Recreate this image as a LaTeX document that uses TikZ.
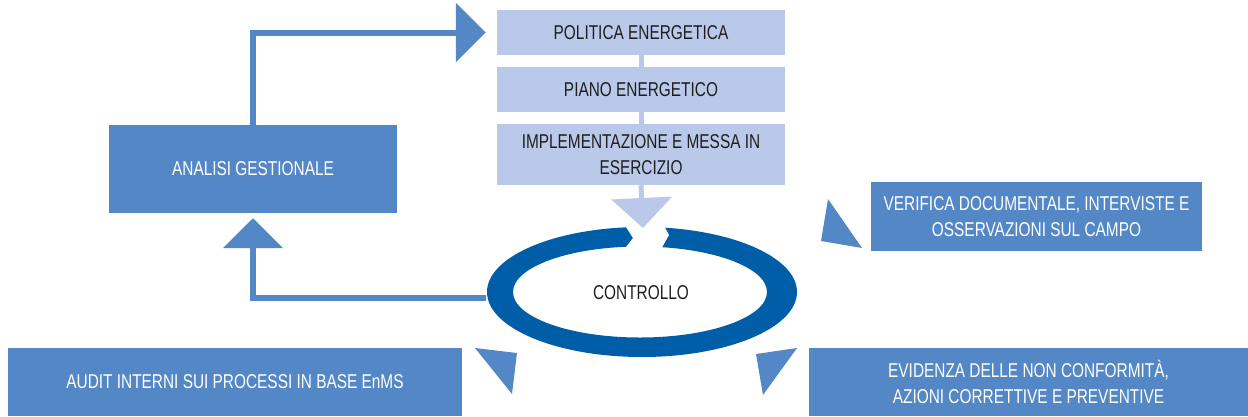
\documentclass[tikz,border=0pt]{standalone}
\usepackage{fontspec}
\setmainfont{Liberation Sans}[FakeStretch=0.77]
\usetikzlibrary{arrows.meta,shapes.geometric}
\definecolor{lightblue}{RGB}{186,201,233}
\definecolor{midblue}{RGB}{84,135,198}
\definecolor{ringblue}{RGB}{0,94,168}
\definecolor{darktext}{RGB}{30,30,30}
\begin{document}
\begin{tikzpicture}[x=1pt,y=-1pt,
  every node/.style={font=\fontsize{20}{26}\selectfont,align=center,inner sep=0pt},
  topbox/.style={rectangle,fill=lightblue,text=darktext,minimum width=288pt},
  bluebox/.style={rectangle,fill=midblue,text=white},
  stem/.style={lightblue,line width=5pt},
  link/.style={midblue,line width=6pt}]
\useasboundingbox (0,0) rectangle (1248,416);

\fill [ringblue,even odd rule] (642,292) ellipse [x radius=155pt,y radius=65pt]
  (640,292) ellipse [x radius=127pt,y radius=45.5pt];
\fill [white] (624,224) -- (633,238) -- (623,251) -- (660,251) -- (669,235) -- (663,224) -- cycle;
\node (controllo) at (641,293) [ellipse,minimum width=310pt,minimum height=130pt,text=darktext] {CONTROLLO};

\node (politica) at (641,32.5) [topbox,minimum height=45pt] {POLITICA ENERGETICA};
\node (piano) at (641,89.5) [topbox,minimum height=45pt] {PIANO ENERGETICO};
\node (impl) at (641,154.5) [topbox,minimum height=61pt] {IMPLEMENTAZIONE E MESSA IN\\ESERCIZIO};
\node (analisi) at (253,169) [bluebox,minimum width=288pt,minimum height=88pt] {ANALISI GESTIONALE};
\node (verifica) at (1036.5,216.5) [bluebox,minimum width=331pt,minimum height=69pt] {VERIFICA DOCUMENTALE, INTERVISTE E\\OSSERVAZIONI SUL CAMPO};
\node (audit) at (235,382) [bluebox,minimum width=454pt,minimum height=68pt] {AUDIT INTERNI SUI PROCESSI IN BASE EnMS};
\node (evidenza) at (1028.5,382) [bluebox,minimum width=439pt,minimum height=68pt] {EVIDENZA DELLE NON CONFORMIT\`A,\\AZIONI CORRETTIVE E PREVENTIVE};

\coordinate (ringtop) at (643,228);
\draw [stem] (politica) -- (piano);
\draw [stem] (piano) -- (impl);
\draw [stem,-{Triangle[width=60pt,length=30pt]}] (impl.south) -- (ringtop);
\draw [link,-{Triangle[width=58pt,length=30pt]},shorten >=11pt] (analisi.north) |- (politica.west);
\draw [link,-{Triangle[width=59pt,length=30pt]},shorten >=5pt] ([yshift=-5pt]controllo.west) -| (analisi.south);

\fill [midblue] (821,241) -- (828,199) -- (862,248) -- cycle;
\fill [midblue] (756,354) -- (797,348) -- (763,395) -- cycle;
\fill [midblue] (475,348) -- (517,353) -- (512,394) -- cycle;

\end{tikzpicture}
\end{document}
